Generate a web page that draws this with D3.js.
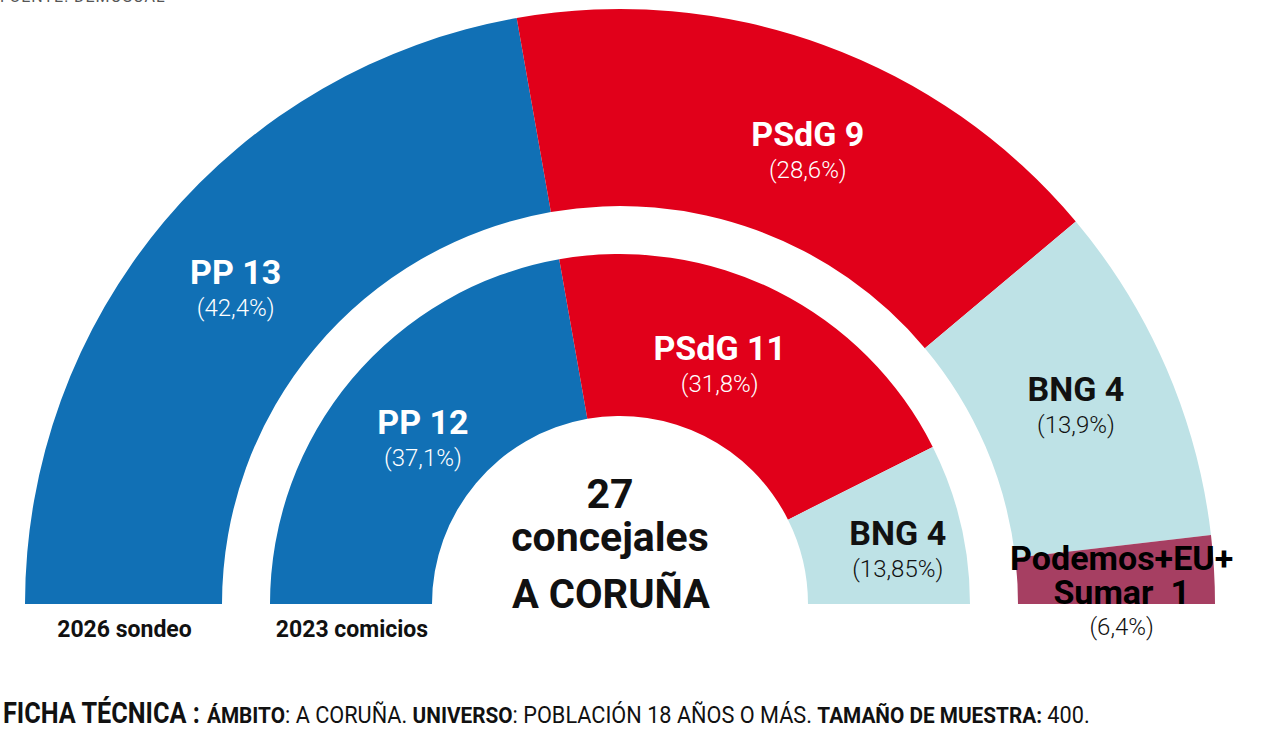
<!DOCTYPE html>
<html>
<head>
<meta charset="utf-8">
<script src="https://cdn.jsdelivr.net/npm/d3@7"></script>
<style>
  body { margin: 0; background: #fff; }
  svg { display: block; font-family: Roboto, "Noto Sans", sans-serif; }
</style>
</head>
<body>
<div id="chart"></div>
<script>
// --- data ---
const parties = ['PP', 'PSdG', 'BNG', 'Podemos+EU+Sumar'];

// 2026 sondeo (outer ring)
const seats2026 = [13, 9, 4, 1];
const pct2026 = ['42,4%', '28,6%', '13,9%', '6,4%'];
// arc widths as drawn in the picture (in seat units)
const drawn2026 = [12, 9, 5, 1];

// 2023 comicios (inner ring)
const seats2023 = [12, 11, 4];
const pct2023 = ['37,1%', '31,8%', '13,85%'];

const ringNames = ['2026 sondeo', '2023 comicios'];
const totalSeats = 27;
const city = 'A CORUÑA';

// --- layout ---
const width = 1280, height = 732;
const cx = 620, cy = 604;
const outerR = [398, 595], innerR = [188, 350];
const colors = ['#1170b5', '#e1001a', '#bee2e6', '#a63f62'];
const textColors = ['#fff', '#fff', '#111', '#000'];
// small label nudges [dx, dy] off each arc centroid
const nudgeOuter = [[-4, 5], [18, 15], [0, 0], [6, 0]];
const nudgeInner = [[9, 9], [-21, 2], [16, 9]];

const svg = d3.select('#chart').append('svg')
  .attr('width', width)
  .attr('height', height);

const g = svg.append('g').attr('transform', `translate(${cx},${cy})`);

const pie = d3.pie()
  .sort(null)
  .startAngle(-Math.PI / 2)
  .endAngle(Math.PI / 2);

function drawRing(values, seats, pcts, radii, nudges, cls) {
  const arc = d3.arc().innerRadius(radii[0]).outerRadius(radii[1]);
  const arcs = pie(values);

  g.selectAll('.' + cls)
    .data(arcs)
    .join('path')
    .attr('class', cls)
    .attr('d', arc)
    .attr('fill', (d, i) => colors[i]);

  const labels = g.selectAll('.' + cls + '-lab')
    .data(arcs)
    .join('g')
    .attr('class', cls + '-lab')
    .attr('transform', (d, i) => {
      const c = arc.centroid(d);
      return `translate(${c[0] + nudges[i][0]},${c[1] + nudges[i][1]})`;
    })
    .attr('text-anchor', 'middle');

  labels.each(function(d, i) {
    const lab = d3.select(this);
    if (parties[i] === 'Podemos+EU+Sumar') {
      lab.append('text').attr('y', -5).text('Podemos+EU+')
        .attr('font-size', 34).attr('font-weight', 700).attr('fill', textColors[i]);
      lab.append('text').attr('y', 29).attr('xml:space', 'preserve').text('Sumar  ' + seats[i])
        .attr('font-size', 34).attr('font-weight', 700).attr('fill', textColors[i]);
      lab.append('text').attr('y', 60).text('(' + pcts[i] + ')')
        .attr('font-size', 24).attr('font-weight', 300).attr('fill', '#111');
    } else {
      lab.append('text').attr('y', -6).text(parties[i] + ' ' + seats[i])
        .attr('font-size', 34).attr('font-weight', 700).attr('fill', textColors[i]);
      lab.append('text').attr('y', 26).text('(' + pcts[i] + ')')
        .attr('font-size', 24).attr('font-weight', 300).attr('fill', textColors[i]);
    }
  });
}

drawRing(drawn2026, seats2026, pct2026, outerR, nudgeOuter, 'outer');
drawRing(seats2023, seats2023, pct2023, innerR, nudgeInner, 'inner');

// center text
const center = svg.append('g').attr('text-anchor', 'middle').attr('fill', '#111');
center.append('text').attr('x', 610).attr('y', 508).attr('font-size', 41).attr('font-weight', 700).text(totalSeats);
center.append('text').attr('x', 610).attr('y', 551).attr('font-size', 41).attr('font-weight', 700).text('concejales');
center.append('text').attr('x', 611).attr('y', 608).attr('font-size', 40).attr('font-weight', 700).text(city);

// ring names under the bars
svg.append('g').attr('text-anchor', 'middle')
  .selectAll('text')
  .data(ringNames)
  .join('text')
  .attr('x', (d, i) => i === 0 ? cx - (outerR[0] + outerR[1]) / 2 + 1 : cx - (innerR[0] + innerR[1]) / 2 + 1)
  .attr('y', 637)
  .attr('font-size', 23)
  .attr('font-weight', 700)
  .attr('fill', '#111')
  .text(d => d);

// source, cut at the top edge
svg.append('text')
  .attr('x', 0).attr('y', 2)
  .attr('font-size', 16)
  .attr('fill', '#555')
  .attr('letter-spacing', 1)
  .text('FUENTE: DEMOSCAL');

// technical note, squeezed to look condensed
function squeezed(parts, x, y, w) {
  const t = svg.append('text').attr('fill', '#111');
  t.selectAll('tspan')
    .data(parts)
    .join('tspan')
    .attr('font-weight', d => d[1])
    .attr('font-size', d => d[2])
    .attr('xml:space', 'preserve')
    .text(d => d[0]);
  const tw = t.node().getComputedTextLength();
  t.attr('transform', `translate(${x},${y}) scale(${w / tw},1)`);
}
squeezed([['FICHA TÉCNICA :', 700, 30]], 3, 723, 197);
squeezed([
  ['ÁMBITO', 700, 22],
  [': A CORUÑA. ', 400, 23],
  ['UNIVERSO', 700, 22],
  [': POBLACIÓN 18 AÑOS O MÁS. ', 400, 23],
  ['TAMAÑO DE MUESTRA:', 700, 22],
  [' 400.', 400, 23]
], 207, 723, 883);
</script>
</body>
</html>
